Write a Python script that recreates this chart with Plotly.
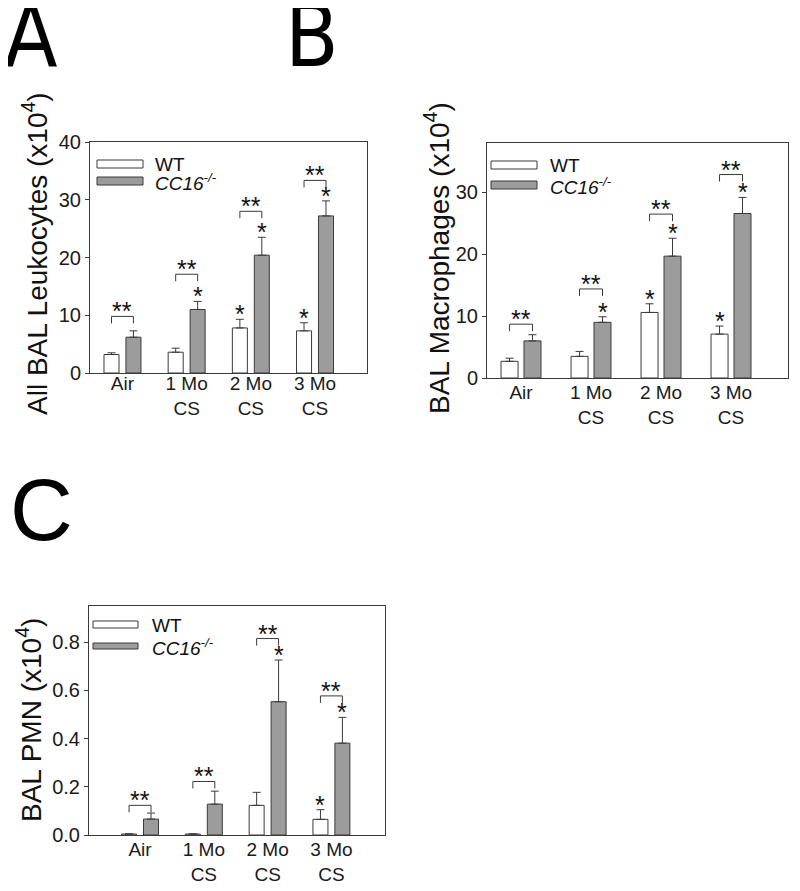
import plotly.graph_objects as go

# ---------------- data ----------------
categories = ["Air", "1 Mo<br>CS", "2 Mo<br>CS", "3 Mo<br>CS"]
groups = ["WT", "CC16-/-"]

# Panel A: All BAL Leukocytes (x10^4)
a_wt = [3.2, 3.6, 7.8, 7.3]
a_wt_err = [0.3, 0.7, 1.5, 1.4]
a_cc = [6.2, 11.0, 20.4, 27.2]
a_cc_err = [1.1, 1.4, 3.1, 2.6]
a_wt_sig = [False, False, True, True]
a_cc_sig = [False, True, True, True]
a_pair_level = [9.8, 17.1, 28.0, 33.35]

# Panel B: BAL Macrophages (x10^4)
b_wt = [2.7, 3.5, 10.6, 7.1]
b_wt_err = [0.5, 0.8, 1.4, 1.3]
b_cc = [6.0, 9.0, 19.7, 26.6]
b_cc_err = [1.0, 0.9, 2.9, 2.6]
b_wt_sig = [False, False, True, True]
b_cc_sig = [False, True, True, True]
b_pair_level = [8.7, 14.4, 26.5, 32.9]

# Panel C: BAL PMN (x10^4)
c_wt = [0.004, 0.004, 0.123, 0.065]
c_wt_err = [0.001, 0.001, 0.054, 0.040]
c_cc = [0.066, 0.128, 0.553, 0.381]
c_cc_err = [0.025, 0.054, 0.173, 0.107]
c_wt_sig = [False, False, False, True]
c_cc_sig = [False, False, True, True]
c_pair_level = [0.123, 0.222, 0.815, 0.577]

# ---------------- layout helpers ----------------
PAGE_W, PAGE_H = 800, 891
OFF = 8  # default body margin of the html page
W, H = PAGE_W - OFF, PAGE_H - OFF
def px(x):
    return (x - OFF) / W
def py(y):
    return 1 - (y - OFF) / H

FONT = "Liberation Sans, Arial, sans-serif"
NARROW = "Liberation Sans Narrow, Arial Narrow, DejaVu Sans Condensed, Liberation Sans, Arial"
AXC = "#3a3a3a"
GRAY = "#9c9c9c"

panels = [
    dict(key="", wt=a_wt, wte=a_wt_err, cc=a_cc, cce=a_cc_err, wts=a_wt_sig, ccs=a_cc_sig,
         lvl=a_pair_level, box=(90, 367, 142, 373), yr=[0, 40], dt=10, fmt="d",
         xr=[-0.506, 3.81], bw=0.234, off=0.171, lso=-7,
         title="All BAL Leukocytes (x10<sup>4</sup>)", tx=35, ty=254,
         leg=(97, 143, 160, 168, 177, 185, 153, 165, 182)),
    dict(key="2", wt=b_wt, wte=b_wt_err, cc=b_cc, cce=b_cc_err, wts=b_wt_sig, ccs=b_cc_sig,
         lvl=b_pair_level, box=(487, 788, 143, 378), yr=[0, 38], dt=10, fmt="d",
         xr=[-0.486, 3.814], bw=0.243, off=0.164, lso=-3,
         title="BAL Macrophages (x10<sup>4</sup>)", tx=437, ty=258,
         leg=(491, 537, 161, 169, 181, 189, 548, 166, 186)),
    dict(key="3", wt=c_wt, wte=c_wt_err, cc=c_cc, cce=c_cc_err, wts=c_wt_sig, ccs=c_cc_sig,
         lvl=c_pair_level, box=(89, 385, 606, 835), yr=[0, 0.95], dt=0.2, fmt=".1f",
         xr=[-0.80, 3.84], bw=0.235, off=0.172, lso=-3,
         title="BAL PMN (x10<sup>4</sup>)", tx=29, ty=720,
         leg=(93, 138, 621, 628, 643, 649, 150, 625, 647)),
]

fig = go.Figure()
shapes = []
annotations = []
xpos = list(range(len(categories)))

for p in panels:
    k = p["key"]
    xa, ya = "x" + k, "y" + k
    x0, x1, y0, y1 = p["box"]
    pxu = (y1 - y0) / (p["yr"][1] - p["yr"][0])  # pixels per data unit

    fig.add_trace(go.Bar(
        x=xpos, y=p["wt"], xaxis=xa, yaxis=ya, name=groups[0],
        width=p["bw"], offset=-p["off"] - p["bw"] / 2,
        marker=dict(color="white", line=dict(color=AXC, width=1)),
        error_y=dict(type="data", array=p["wte"], arrayminus=[0] * 4, symmetric=False,
                     color=AXC, thickness=1, width=4),
        showlegend=False))
    fig.add_trace(go.Bar(
        x=xpos, y=p["cc"], xaxis=xa, yaxis=ya, name=groups[1],
        width=p["bw"], offset=p["off"] - p["bw"] / 2,
        marker=dict(color=GRAY, line=dict(color=AXC, width=1)),
        error_y=dict(type="data", array=p["cce"], arrayminus=[0] * 4, symmetric=False,
                     color=AXC, thickness=1, width=4),
        showlegend=False))

    fig.layout["xaxis" + k] = dict(
        domain=[px(x0), px(x1)], range=p["xr"], anchor=ya, automargin=False,
        tickvals=xpos, ticktext=categories, ticks="", ticklabelstandoff=p["lso"],
        showline=True, mirror=True, linecolor=AXC, linewidth=1,
        showgrid=False, zeroline=False,
        tickfont=dict(family=FONT, size=19, color="#1a1a1a"))
    fig.layout["yaxis" + k] = dict(
        domain=[py(y1), py(y0)], range=p["yr"], dtick=p["dt"], tickformat=p["fmt"],
        anchor=xa, automargin=False, ticks="outside", ticklen=4, tickcolor=AXC,
        showline=True, mirror=True, linecolor=AXC, linewidth=1,
        showgrid=False, zeroline=False,
        tickfont=dict(family=FONT, size=20, color="#1a1a1a"))

    # significance brackets and stars
    drop = 7 / pxu
    for i in xpos:
        xl, xr_ = i - p["off"], i + p["off"]
        lv = p["lvl"][i]
        shapes.append(dict(type="path", xref=xa, yref=ya,
                           path=f"M {xl},{lv-drop} L {xl},{lv} L {xr_},{lv} L {xr_},{lv-drop}",
                           line=dict(color=AXC, width=1)))
        annotations.append(dict(x=i, y=lv, xref=xa, yref=ya, text="**",
                                showarrow=False, yanchor="bottom", yshift=-11,
                                font=dict(family=FONT, size=25, color="#111")))
        if p["wts"][i]:
            annotations.append(dict(x=xl, y=p["wt"][i] + p["wte"][i], xref=xa, yref=ya,
                                    text="*", showarrow=False, yanchor="bottom", yshift=-11,
                                    font=dict(family=FONT, size=25, color="#111")))
        if p["ccs"][i]:
            annotations.append(dict(x=xr_, y=p["cc"][i] + p["cce"][i], xref=xa, yref=ya,
                                    text="*", showarrow=False, yanchor="bottom", yshift=-11,
                                    font=dict(family=FONT, size=25, color="#111")))

    # y-axis title
    annotations.append(dict(x=px(p["tx"]), y=py(p["ty"]), xref="paper", yref="paper",
                            text=p["title"], textangle=-90, showarrow=False,
                            xanchor="center", yanchor="middle",
                            font=dict(family=FONT, size=28, color="#111")))

    # legend (custom swatches)
    lx0, lx1, ly0, ly1, ly2, ly3, ltx, lty1, lty2 = p["leg"]
    shapes.append(dict(type="rect", xref="paper", yref="paper",
                       x0=px(lx0), x1=px(lx1), y0=py(ly1), y1=py(ly0),
                       fillcolor="white", line=dict(color=AXC, width=1)))
    shapes.append(dict(type="rect", xref="paper", yref="paper",
                       x0=px(lx0), x1=px(lx1), y0=py(ly3), y1=py(ly2),
                       fillcolor=GRAY, line=dict(color=AXC, width=1)))
    annotations.append(dict(x=px(ltx), y=py(lty1), xref="paper", yref="paper",
                            text=groups[0], showarrow=False, xanchor="left", yanchor="middle",
                            font=dict(family=FONT, size=19, color="#111")))
    annotations.append(dict(x=px(ltx), y=py(lty2), xref="paper", yref="paper",
                            text="<i>CC16<sup>-/-</sup></i>", showarrow=False,
                            xanchor="left", yanchor="middle",
                            font=dict(family=FONT, size=19, color="#111")))

# panel letters
for letter, lx, ly, fam in [("A", 2, 36, NARROW), ("B", 283, 36, NARROW), ("C", 8, 509, FONT)]:
    annotations.append(dict(x=px(lx), y=py(ly), xref="paper", yref="paper", text=letter,
                            showarrow=False, xanchor="left", yanchor="middle",
                            font=dict(family=fam, size=87, color="black")))

fig.update_layout(width=W, height=H, margin=dict(l=0, r=0, t=0, b=0, autoexpand=False),
                  paper_bgcolor="white", plot_bgcolor="white",
                  barmode="overlay", shapes=shapes, annotations=annotations,
                  font=dict(family=FONT))
fig.write_html("out.html")
